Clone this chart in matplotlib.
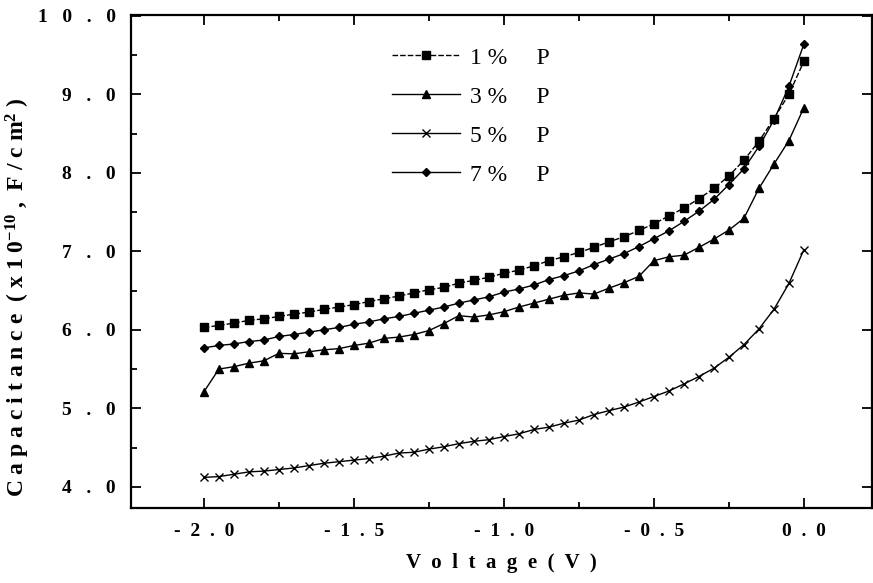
import matplotlib
matplotlib.use("Agg")
import matplotlib.pyplot as plt
import numpy as np
from matplotlib.ticker import FixedLocator, MultipleLocator

plt.rcParams['font.family'] = ['Liberation Serif', 'DejaVu Serif']
plt.rcParams['mathtext.fontset'] = 'custom'
plt.rcParams['mathtext.rm'] = 'Liberation Serif:bold'
plt.rcParams['mathtext.bf'] = 'Liberation Serif:bold'
plt.rcParams['mathtext.default'] = 'bf'

# ---- data ----
voltage = np.round(np.arange(-2.0, 0.0001, 0.05), 2)

cap_1 = [6.03, 6.055, 6.085, 6.12, 6.14, 6.17, 6.20, 6.225, 6.26, 6.29,
         6.32, 6.36, 6.395, 6.43, 6.47, 6.51, 6.54, 6.595, 6.63, 6.67,
         6.72, 6.76, 6.815, 6.88, 6.93, 6.985, 7.05, 7.12, 7.185, 7.265,
         7.35, 7.45, 7.55, 7.67, 7.80, 7.96, 8.16, 8.40, 8.69, 9.00, 9.42]
cap_3 = [5.21, 5.50, 5.53, 5.575, 5.605, 5.70, 5.694, 5.72, 5.745, 5.76,
         5.80, 5.83, 5.89, 5.907, 5.94, 5.99, 6.08, 6.18, 6.162, 6.19,
         6.23, 6.29, 6.34, 6.39, 6.44, 6.47, 6.455, 6.53, 6.60, 6.68,
         6.88, 6.93, 6.95, 7.05, 7.155, 7.27, 7.42, 7.80, 8.11, 8.41, 8.83]
cap_5 = [4.12, 4.13, 4.16, 4.19, 4.20, 4.22, 4.24, 4.27, 4.30, 4.32,
         4.34, 4.36, 4.39, 4.43, 4.44, 4.48, 4.51, 4.55, 4.58, 4.60,
         4.64, 4.675, 4.73, 4.76, 4.81, 4.85, 4.92, 4.97, 5.015, 5.08,
         5.15, 5.22, 5.31, 5.405, 5.51, 5.65, 5.81, 6.01, 6.26, 6.59, 7.02]
cap_7 = [5.77, 5.80, 5.82, 5.85, 5.87, 5.915, 5.94, 5.97, 6.00, 6.03,
         6.07, 6.10, 6.14, 6.17, 6.21, 6.25, 6.29, 6.34, 6.38, 6.42,
         6.48, 6.52, 6.57, 6.64, 6.69, 6.75, 6.83, 6.90, 6.97, 7.06,
         7.16, 7.26, 7.38, 7.51, 7.66, 7.85, 8.05, 8.335, 8.67, 9.10, 9.64]

series_labels = ["1 %     P", "3 %     P", "5 %     P", "7 %     P"]
x_ticks = [-2.0, -1.5, -1.0, -0.5, 0.0]
x_tick_labels = ["-2.0", "-1.5", "-1.0", "-0.5", "0.0"]
y_ticks = [4.0, 5.0, 6.0, 7.0, 8.0, 9.0, 10.0]
y_tick_labels = ["4.0", "5.0", "6.0", "7.0", "8.0", "9.0", "10.0"]

# ---- figure ----
fig = plt.figure(figsize=(8.73, 5.83), dpi=100)
ax = fig.add_axes([131/873, 75/583, 741/873, 493/583])

ax.plot(voltage, cap_1, color='black', lw=1.0, ls=(0, (4, 1.5)), marker='s', ms=5.5, label=series_labels[0])
ax.plot(voltage, cap_3, color='black', lw=1.0, marker='^', ms=5.5, label=series_labels[1])
ax.plot(voltage, cap_5, color='black', lw=1.0, marker='x', ms=6, mew=1.0, label=series_labels[2])
ax.plot(voltage, cap_7, color='black', lw=1.0, marker='D', ms=4, label=series_labels[3])

ax.set_xlim(-2.243, 0.227)
ax.set_ylim(3.73, 10.01)

def spaced(s, n):
    return (" " * n).join(list(s))

ax.xaxis.set_major_locator(FixedLocator(x_ticks))
ax.set_xticklabels([spaced(s, 2) for s in x_tick_labels])
ax.xaxis.set_minor_locator(MultipleLocator(0.25))
ax.yaxis.set_major_locator(FixedLocator(y_ticks))
ax.set_yticklabels([spaced(s, 3) for s in y_tick_labels])
ax.yaxis.set_minor_locator(MultipleLocator(0.5))

ax.tick_params(which='both', direction='in', top=True, right=True, width=1.3)
ax.tick_params(which='major', length=7, pad=11, labelsize=14)
ax.tick_params(which='minor', length=4)
ax.tick_params(axis='y', which='minor', right=False)
for lab in ax.get_xticklabels() + ax.get_yticklabels():
    lab.set_fontweight('bold')

for sp in ax.spines.values():
    sp.set_linewidth(1.6)

ax.set_xlabel(spaced("Voltage(V)", 2), fontsize=15, fontweight='bold')
ax.xaxis.set_label_coords(0.5, -0.092)
ax.set_ylabel(r"C a p a c i t a n c e  ( x 1 0$^{-10}$ ,  F / c m$^{2}$ )",
              fontsize=17, fontweight='bold')
ax.yaxis.set_label_coords(-0.134, 0.428)

leg = ax.legend(loc='upper left', bbox_to_anchor=((392-131)/741, 1 - (47-15)/493),
                frameon=False, fontsize=17, handlelength=2.88, handletextpad=0.42,
                labelspacing=0.74, borderpad=0, borderaxespad=0)

fig.savefig("out.png", dpi=100)
